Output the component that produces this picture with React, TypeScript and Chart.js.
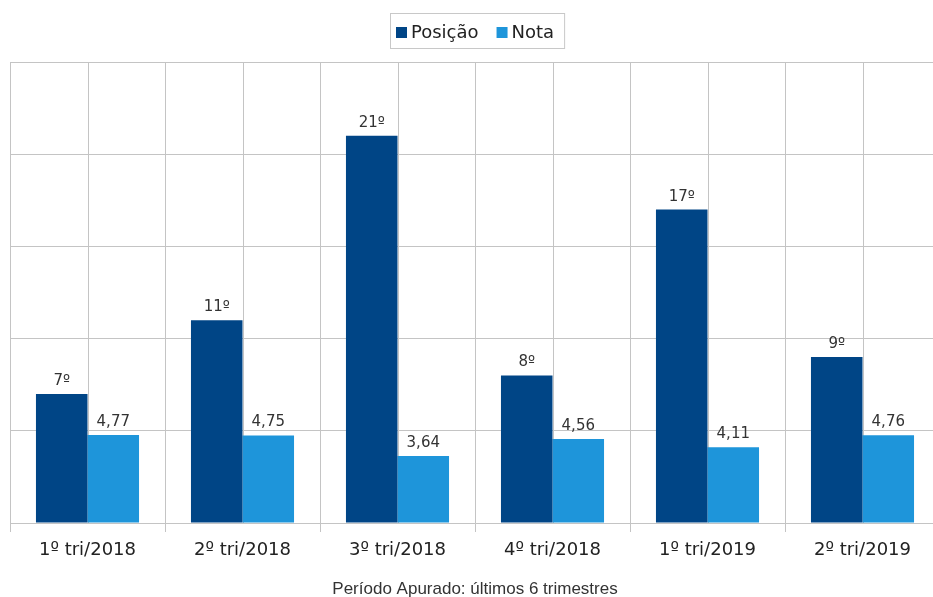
import React, { useEffect, useRef } from "react";
import { Chart, registerables } from "chart.js";

Chart.register(...registerables);

const categories = ["1º tri/2018", "2º tri/2018", "3º tri/2018", "4º tri/2018", "1º tri/2019", "2º tri/2019"];
const seriesNames = ["Posição", "Nota"];
const posicao = [7, 11, 21, 8, 17, 9];
const nota = [4.77, 4.75, 3.64, 4.56, 4.11, 4.76];
const seriesColors = ["#004586", "#1e95da"];
const axisTitle = "Período Apurado: últimos 6 trimestres";
const yMin = 0;
const yMax = 25;
const yStep = 5;

const W = 950;
const H = 597;
const GRID = "#c4c4c4";

const centerLinesPlugin = {
  id: "centerLines",
  beforeDatasetsDraw(chart: any) {
    const { ctx, chartArea, scales } = chart;
    ctx.save();
    ctx.strokeStyle = GRID;
    ctx.lineWidth = 1;
    categories.forEach((_, i) => {
      const x = Math.round(scales.x.getPixelForValue(i)) + 0.5;
      ctx.beginPath();
      ctx.moveTo(x, chartArea.top);
      ctx.lineTo(x, chartArea.bottom);
      ctx.stroke();
    });
    ctx.restore();
  },
};

const dataLabelsPlugin = {
  id: "dataLabels",
  afterDatasetsDraw(chart: any) {
    const { ctx } = chart;
    ctx.save();
    ctx.font = '15px "DejaVu Sans"';
    ctx.fillStyle = "#333333";
    ctx.textAlign = "center";
    ctx.textBaseline = "alphabetic";
    chart.data.datasets.forEach((ds: any, di: number) => {
      const meta = chart.getDatasetMeta(di);
      meta.data.forEach((el: any, i: number) => {
        const v = ds.data[i];
        const txt = di === 0 ? `${v}º` : v.toFixed(2).replace(".", ",");
        ctx.fillText(txt, el.x, el.y - 9);
      });
    });
    ctx.restore();
  },
};

const legendPlugin = {
  id: "boxLegend",
  afterDraw(chart: any) {
    const { ctx } = chart;
    ctx.save();
    ctx.font = '18px "DejaVu Sans"';
    const sw = 11;
    const gapText = 4;
    const gapItem = 18;
    const widths = seriesNames.map((n) => ctx.measureText(n).width);
    const total =
      widths.reduce((a, w) => a + sw + gapText + w, 0) + gapItem * (seriesNames.length - 1);
    let x = Math.round(chart.width / 2 - total / 2);
    ctx.strokeStyle = "#c8c8c8";
    ctx.lineWidth = 1;
    ctx.strokeRect(x - 6 + 0.5, 13.5, total + 16, 35);
    ctx.textBaseline = "alphabetic";
    ctx.textAlign = "left";
    seriesNames.forEach((n, i) => {
      ctx.fillStyle = seriesColors[i];
      ctx.fillRect(x, 27, sw, 11);
      ctx.fillStyle = "#222222";
      ctx.fillText(n, x + sw + gapText, 38);
      x += sw + gapText + widths[i] + gapItem;
    });
    ctx.restore();
  },
};

export default function App() {
  const ref = useRef<HTMLCanvasElement>(null);
  useEffect(() => {
    if (!ref.current) return;
    const chart = new Chart(ref.current, {
      type: "bar",
      data: {
        labels: categories,
        datasets: [
          { label: seriesNames[0], data: posicao, backgroundColor: seriesColors[0], borderWidth: 0 },
          { label: seriesNames[1], data: nota, backgroundColor: seriesColors[1], borderWidth: 0 },
        ],
      },
      options: {
        animation: false,
        responsive: false,
        maintainAspectRatio: false,
        devicePixelRatio: 1,
        layout: { padding: { left: 10, right: 10, top: 62, bottom: 0 } },
        datasets: { bar: { categoryPercentage: 0.665, barPercentage: 1 } },
        plugins: {
          legend: { display: false },
          tooltip: { enabled: false },
        },
        scales: {
          x: {
            offset: true,
            grid: { offset: true, color: GRID, tickLength: 9, drawTicks: true },
            border: { display: true, color: GRID },
            ticks: {
              color: "#222222",
              font: { family: "DejaVu Sans", size: 18 },
              padding: 8,
              maxRotation: 0,
              autoSkip: false,
            },
            title: {
              display: true,
              text: axisTitle,
              color: "#333333",
              font: { family: "Liberation Sans", size: 17 },
              padding: { top: 0, bottom: -3 },
            },
            afterFit: (scale: any) => {
              scale.height = 74;
            },
          },
          y: {
            min: yMin,
            max: yMax,
            ticks: { display: false, stepSize: yStep },
            grid: { color: GRID, drawTicks: false },
            border: { display: true, color: GRID },
            afterFit: (scale: any) => {
              scale.width = 0;
            },
          },
        },
      },
      plugins: [centerLinesPlugin, dataLabelsPlugin, legendPlugin],
    });
    return () => chart.destroy();
  }, []);
  return (
    <div
      style={{
        position: "absolute",
        left: 0,
        top: 0,
        width: 933,
        height: 597,
        overflow: "hidden",
        background: "#ffffff",
      }}
    >
      <canvas ref={ref} width={W} height={H} style={{ display: "block", width: W, height: H }} />
    </div>
  );
}
